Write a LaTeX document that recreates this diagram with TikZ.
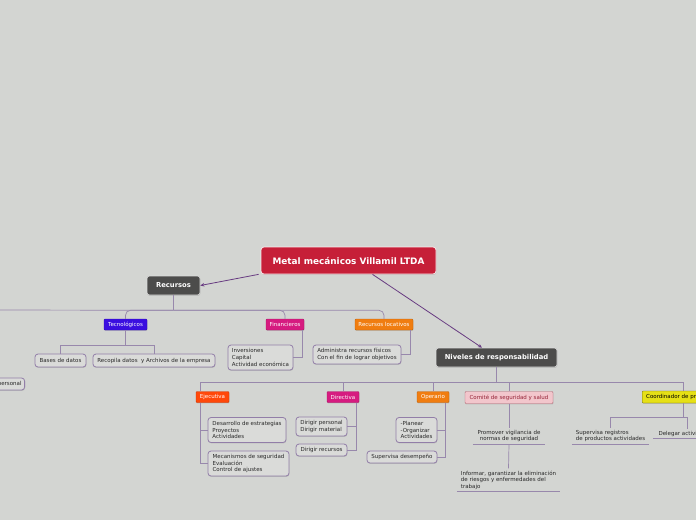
\documentclass[tikz,border=0pt]{standalone}
\usepackage{fontspec}
\setmainfont{DejaVu Sans}
\usetikzlibrary{arrows.meta,shadows}
\definecolor{bg}{RGB}{211,213,210}
\definecolor{rootred}{RGB}{198,31,56}
\definecolor{darkbox}{RGB}{76,76,75}
\definecolor{tecblue}{RGB}{58,14,224}
\definecolor{magen}{RGB}{214,27,128}
\definecolor{orng}{RGB}{240,125,16}
\definecolor{redor}{RGB}{255,72,10}
\definecolor{pinkf}{RGB}{242,198,204}
\definecolor{pinkd}{RGB}{150,36,56}
\definecolor{yell}{RGB}{230,224,22}
\definecolor{treec}{RGB}{152,136,172}
\definecolor{arrc}{RGB}{104,60,130}
\definecolor{subf}{RGB}{218,219,217}
\definecolor{subd}{RGB}{146,126,168}
\definecolor{txt}{RGB}{40,40,40}
\tikzset{
  sm/.style={font=\fontsize{5.5}{6.6}\selectfont},
  shad/.style={drop shadow={shadow xshift=0.4pt,shadow yshift=-0.9pt,opacity=0.3}},
  rootbox/.style={rectangle,rounded corners=3pt,fill=rootred,draw=white!90!rootred,line width=0.7pt,text=white,font=\bfseries\fontsize{8.9}{10}\selectfont,inner sep=0pt,shad},
  darkbx/.style={rectangle,rounded corners=2.5pt,fill=darkbox,draw=white!80!darkbox,line width=0.6pt,text=white,font=\bfseries\fontsize{6.8}{8}\selectfont,inner sep=0pt,shad},
  lvl/.style={rectangle,rounded corners=1pt,fill=#1,draw=#1!80!black,line width=0.4pt,text=white,sm,inner sep=0pt,shad},
  subbox/.style={rectangle,rounded corners=3pt,fill=subf,draw=subd,line width=0.8pt,text=txt,sm,inner sep=0pt,align=left,shad},
  plain/.style={rectangle,text=txt,sm,inner sep=0pt,align=left},
  tree/.style={draw=treec,line width=0.7pt},
  uline/.style={draw=treec,line width=0.8pt},
  arr/.style={draw=arrc,line width=0.8pt,-{Stealth[length=4pt,width=3.5pt]}},
}
\begin{document}
\begin{tikzpicture}[x=1pt,y=-1pt]
\useasboundingbox (0,0) rectangle (696,520);
\clip (0,0) rectangle (696,520);
\fill[bg] (0,0) rectangle (696,520);

% main nodes
\node[rootbox,minimum width=175pt,minimum height=27pt] (root) at (348.5,260.5) {Metal mecánicos Villamil LTDA};
\node[darkbx,minimum width=53pt,minimum height=19pt] (recursos) at (173.5,285.5) {Recursos};
\node[darkbx,minimum width=121pt,minimum height=19pt] (niveles) at (496.5,357.5) {Niveles de responsabilidad};

% Recursos children
\node[lvl=tecblue,minimum width=43pt,minimum height=11pt] (tec) at (125.5,324.5) {Tecnológicos};
\node[lvl=magen,minimum width=38pt,minimum height=11pt] (fin) at (285,324.5) {Financieros};
\node[lvl=orng,minimum width=58pt,minimum height=11pt] (loc) at (384,324.5) {Recursos locativos};
\node[subbox,minimum width=51pt,minimum height=13pt,align=center] (bases) at (60.5,360.5) {Bases de datos};
\node[subbox,minimum width=122pt,minimum height=13pt,align=center] (recop) at (154,360.5) {Recopila datos \ y Archivos de la empresa};
\node[subbox,minimum width=65pt,minimum height=25pt] (inv) at (260.5,357.5) {Inversiones\\Capital\\Actividad económica};
\node[subbox,minimum width=88pt,minimum height=19pt] (adm) at (357,354.5) {Administra recursos físicos\\Con el fin de lograr objetivos};
\node[subbox,minimum height=12pt,anchor=east,inner xsep=3pt] (pers) at (25,384) {personal};

% Niveles children
\node[lvl=redor,minimum width=33pt,minimum height=11pt] (ejec) at (212.5,397) {Ejecutiva};
\node[lvl=magen,minimum width=32pt,minimum height=11pt] (dirc) at (343,397) {Directiva};
\node[lvl=orng,minimum width=32pt,minimum height=11pt] (oper) at (433,397) {Operario};
\node[lvl=pinkf,draw=pinkd!70,text=pinkd,minimum width=88pt,minimum height=12pt] (comite) at (509,397.5) {Comité de seguridad y salud};
\node[lvl=yell,draw=yell!50!black,text=black,minimum height=12pt,anchor=west,inner xsep=4pt] (coord) at (642,397) {Coordinador de producción};

\node[subbox,minimum width=78pt,minimum height=25pt] (desa) at (247,430) {Desarrollo de estrategias\\Proyectos\\Actividades};
\node[subbox,minimum width=81pt,minimum height=25pt] (meca) at (248.5,463.5) {Mecanismos de seguridad\\Evaluación\\Control de ajustes};
\node[subbox,minimum width=51pt,minimum height=19pt] (dirp) at (321.5,426.5) {Dirigir personal\\Dirigir material};
\node[subbox,minimum width=51pt,minimum height=12pt,align=center] (dirr) at (321.5,450) {Dirigir recursos};
\node[subbox,minimum width=41pt,minimum height=25pt] (plan) at (416.5,430) {-Planear\\-Organizar\\Actividades};
\node[subbox,minimum width=70pt,minimum height=12pt,align=center] (supd) at (402,457) {Supervisa desempeño};

\node[plain,align=center,minimum width=72pt,minimum height=16pt] (prom) at (509,436) {Promover vigilancia de\\normas de seguridad};
\node[plain,minimum width=103pt,minimum height=23pt,inner xsep=3pt] (inf) at (508.5,480) {Informar, garantizar la eliminación\\de riesgos y enfermedades del\\trabajo};
\node[plain,minimum width=77pt,minimum height=16pt,inner xsep=3pt] (supr) at (610.5,436) {Supervisa registros\\de productos actividades};
\node[plain,minimum width=62pt,minimum height=9pt,inner xsep=5pt] (deleg) at (686,433.5) {Delegar actividades};

% underlines
\draw[uline] (prom.south west) -- (prom.south east);
\draw[uline] (inf.south west) -- (inf.south east);
\draw[uline] (supr.south west) -- (supr.south east);
\draw[uline] (deleg.south west) -- (deleg.south east);

% main arrows
\draw[arr] ([xshift=-2pt]root.south west) -- (recursos.east);
\draw[arr] ([xshift=24pt]root.south) -- ([xshift=-14.5pt]niveles.north);

% Recursos tree
\draw[tree] (recursos.south) -- ++(0,15) coordinate (rb);
\coordinate (rl) at (-5,310);
\draw[tree] (rb) -- (rl);
\draw[tree,rounded corners=5pt] (rb) -| (tec.north);
\draw[tree,rounded corners=5pt] (rb) -| (fin.north);
\draw[tree,rounded corners=5pt] (rb) -| (loc.north);
\draw[tree] (tec.south) -- ++(0,15) coordinate (tb);
\draw[tree] (tb) -| (bases.north);
\draw[tree] (tb) -| (recop.north);
\draw[tree] ([xshift=17pt]fin.south) |- (inv.east);
\draw[tree] ([xshift=26pt]loc.south) |- (adm.east);

% Niveles tree
\draw[tree] (niveles.south) -- ++(0,15) coordinate (nb);
\draw[tree] (nb) -| ([xshift=-12.5pt]ejec.north);
\draw[tree] (nb) -| (dirc.north);
\draw[tree] (nb) -| (oper.north);
\draw[tree] (nb) -| (comite.north);
\draw[tree] (nb) -| ([xshift=41pt]coord.north west);

\draw[tree] ([xshift=-12.5pt]ejec.south) |- (desa.west);
\draw[tree] ([xshift=-12.5pt]ejec.south) |- (meca.west);
\draw[tree] ([xshift=13pt]dirc.south) |- (dirp.east);
\draw[tree] ([xshift=13pt]dirc.south) |- (dirr.east);
\draw[tree] ([xshift=12pt]oper.south) |- (plan.east);
\draw[tree] ([xshift=12pt]oper.south) |- (supd.east);
\draw[tree] (comite.south) -- (prom.north);
\draw[tree] (prom.south) -- (inf.north);
\draw[tree] ([xshift=41pt]coord.south west) -- ++(0,14) coordinate (cb);
\draw[tree] (cb) -| (supr.north);
\draw[tree] (cb) -| ([xshift=1pt]deleg.north);
\end{tikzpicture}
\end{document}
